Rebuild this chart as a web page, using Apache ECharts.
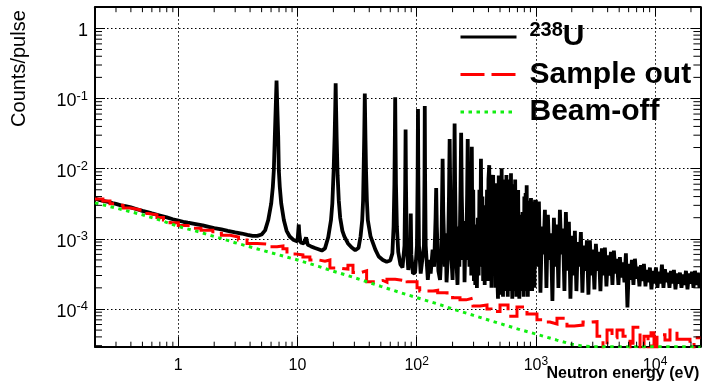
<!DOCTYPE html>
<html>
<head>
<meta charset="utf-8">
<script src="https://cdn.jsdelivr.net/npm/echarts@6/dist/echarts.min.js"></script>
<style>
  html, body { margin: 0; padding: 0; background: #fff; }
  #chart { width: 702px; height: 385px; }
</style>
</head>
<body>
<div id="chart"></div>
<script>
// Axis ranges (eV on x, counts per pulse on y)
const xRange = [0.2, 24000];
const yRange = [2.9e-5, 2];

// Mantissas used for the minor ticks inside each decade
const minorMantissas = [2, 3, 4, 5, 6, 7, 8, 9];

// 238U sample in the beam: [neutron energy (eV), counts/pulse]
const u238 = [
  [0.2,3.75e-3],[0.22,3.55e-3],[0.25,3.4e-3],[0.28,3.22e-3],[0.3,3.14e-3],[0.33,3.0e-3],[0.36,2.92e-3],
  [0.4,2.8e-3],[0.45,2.64e-3],[0.5,2.5e-3],[0.55,2.4e-3],[0.6,2.3e-3],[0.7,2.15e-3],[0.8,2.02e-3],
  [0.9,1.9e-3],[1.0,1.82e-3],[1.1,1.75e-3],[1.2,1.7e-3],[1.4,1.62e-3],[1.6,1.55e-3],[1.8,1.48e-3],
  [2.0,1.42e-3],[2.3,1.36e-3],[2.6,1.3e-3],[3.0,1.24e-3],[3.4,1.19e-3],[3.8,1.14e-3],[4.2,1.1e-3],
  [4.6,1.1e-3],[5.0,1.15e-3],[5.35,1.32e-3],
  // 6.67 eV resonance
  [5.68,1.85e-3],[6.02,3.2e-3],[6.21,5.5e-3],[6.33,9.5e-3],[6.45,0.028],[6.58,0.085],[6.67,0.18],
  [6.76,0.08],[6.89,0.028],[6.97,9.5e-3],[7.1,5.5e-3],[7.3,3.2e-3],[7.68,1.85e-3],[8.1,1.3e-3],
  [8.6,1.08e-3],[9.3,9.6e-4],[10.0,9.2e-4],[10.15,1.3e-3],[10.25,1.6e-3],[10.35,1.2e-3],[10.6,8.9e-4],
  [11.3,8.6e-4],[11.8,1.05e-3],[12.2,8.2e-4],[13.0,7.8e-4],[14.0,7.4e-4],[15.0,7.1e-4],[16.0,6.8e-4],
  [17.0,7.3e-4],[18.1,1.05e-3],
  // 20.9 eV resonance
  [19.1,1.85e-3],[19.6,3.2e-3],[20.1,9.5e-3],[20.5,0.03],[20.75,0.08],[20.9,0.165],[21.05,0.08],
  [21.3,0.028],[21.7,8e-3],[22.2,3.5e-3],[22.8,2e-3],[23.8,1.3e-3],[24.7,1.08e-3],[26.5,8.6e-4],
  [28.5,7.5e-4],[30.5,6.9e-4],[32.5,7.4e-4],[33.8,1.08e-3],
  // 36.7 eV resonance
  [34.9,1.85e-3],[35.5,3.5e-3],[35.9,0.01],[36.3,0.03],[36.55,0.07],[36.7,0.118],[36.9,0.06],
  [37.2,0.025],[37.6,9e-3],[38.2,3.5e-3],[38.9,1.85e-3],[41.0,1.08e-3],[45.0,7.0e-4],[48.0,5.6e-4],
  [52.0,5.0e-4],[56.0,4.7e-4],[60.0,4.9e-4],[62.5,6.2e-4],
  // 66 eV and up
  [64.0,1.5e-3],[65.0,6e-3],[65.6,0.03],[66.0,0.104],[66.4,0.03],[67.0,6e-3],[68.2,1.5e-3],
  [70.0,6.5e-4],[73.0,4.3e-4],[76.0,3.9e-4],[79.0,8e-4],[80.1,6e-3],[80.7,0.036],[81.3,6e-3],
  [82.5,8e-4],[85.0,3.6e-4],[88.3,6e-4],[89.2,2.3e-3],[90.1,6e-4],[93.0,3.2e-4],[97.0,3.3e-4],
  [100.5,8e-4],[101.8,8e-3],[102.5,0.071],[103.2,8e-3],[104.5,8e-4],[108,3.2e-4],[112,3.3e-4],
  [115,8e-4],[116.3,8e-3],[116.9,0.078],[117.6,8e-3],[119,8e-4],[124,2.6e-4],[128,5e-4],[131,3.2e-4],
  [136,7e-4],[140,4e-4],[144,2e-3],[145.7,5.3e-3],[147.5,1.5e-3],[152,3.5e-4],[157,2.6e-4],[161,6e-4],
  [163,3e-3],[165,0.0138],[167,2.5e-3],[172,4e-4],[175,1.2e-3],[178,2.4e-4],[183,6e-4],[186.5,4e-3],
  [189,0.0265],[191.5,4e-3],[196,5e-4],[200,2.6e-4],[204,9e-4],[206,6e-3],[208,0.044],[210,6e-3],
  [214,6e-4],[220,2.2e-4],[225,1.5e-3],[228,4e-4],[233,5e-3],[236,0.0325],[239,4e-3],[245,5e-4],
  [249,1.8e-3],[252,2.4e-4],[257,1.2e-3],[260,5e-4],[265,4.5e-3],[268,0.0265],[271,3e-3],[277,4e-4],
  // 280 eV - 1 keV: dense resonances
  [283,4e-3],[287,3e-4],[290,0.0205],[294,4e-4],[298,5e-3],[302,2.5e-4],[306,1.6e-3],[310,2.2e-4],
  [315,1.4e-3],[320,2e-4],[326,2e-3],[331,3e-4],[336,5e-3],[341,4e-4],[346,0.0138],[351,4e-4],
  [356,4e-3],[361,2.5e-4],[366,1.66e-3],[372,2.2e-4],[377,3e-3],[383,3e-4],[389,5e-3],[395,2.5e-4],
  [400,7e-3],[406,0.0112],[412,3e-4],[418,6e-3],[424,2e-4],[431,7e-3],[438,8.1e-3],[444,3e-4],
  [451,5e-3],[458,2e-4],[462,4e-3],[467,6.2e-3],[474,3e-4],[481,1.4e-4],[488,8e-3],[494,3e-4],
  [501,7e-3],[508,1.6e-4],[516,0.0101],[523,4e-4],[530,1.5e-4],[538,7e-3],[545,2.5e-4],[552,6e-3],
  [559,1.8e-4],[566,8.1e-3],[574,4e-4],[581,1.5e-4],[589,7e-3],[596,2.5e-4],[604,6e-3],[611,1.8e-4],
  [618,8.6e-3],[626,4e-4],[634,1.4e-4],[642,6e-3],[651,2.5e-4],[660,5e-3],[665,1.8e-4],[670,7.0e-3],
  [678,4e-4],[686,1.5e-4],[693,4e-3],[700,2.5e-4],[710,4.95e-3],[718,3e-4],[726,1.4e-4],[735,2e-3],
  [744,2.5e-4],[752,2.2e-3],[762,1.8e-4],[773,2.4e-3],[782,3e-4],[790,1.5e-4],[800,4e-3],[810,2.5e-4],
  [820,4.5e-3],[828,1.8e-4],[837,5.8e-3],[847,4e-4],[856,1.5e-4],[866,3.5e-3],[876,2.5e-4],
  [886,3.5e-3],[895,1.8e-4],[903,3e-3],[910,3.8e-3],[920,4e-4],[930,1.8e-4],[940,3.2e-3],[950,2.5e-4],
  [962,3.4e-3],[972,2e-4],[985,3.6e-3],[995,4e-4],
  // unresolved region
  [1000,3.6e-3],[1030,4e-4],[1060,3.4e-3],[1092,1.7e-4],[1123,1.5e-3],[1157,6e-4],[1190,2.6e-3],
  [1226,2e-4],[1261,2.2e-3],[1299,5e-4],[1336,1.2e-3],[1376,1.3e-4],[1416,2.0e-3],[1458,4e-4],
  [1500,1.6e-3],[1545,2e-4],[1590,2.6e-3],[1638,6e-4],[1685,1.4e-3],[1736,1.8e-4],[1785,2.4e-3],
  [1839,3.5e-4],[1892,1.75e-3],[1949,1.4e-4],[2005,1.1e-3],[2065,3e-4],[2124,1.3e-3],[2188,1.8e-4],
  [2251,9e-4],[2319,4e-4],[2385,1.25e-3],[2457,1.7e-4],[2528,8e-4],[2604,3.5e-4],[2679,9.5e-4],
  [2759,1.6e-4],[2838,9.5e-4],[2923,3e-4],[3008,7e-4],[3098,1.9e-4],[3187,8.5e-4],[3283,3.5e-4],
  [3378,6.5e-4],[3479,1.8e-4],[3579,7.3e-4],[3686,3e-4],[3793,7.5e-4],[3907,2.1e-4],[4020,5.8e-4],
  [4141,3e-4],[4260,6.5e-4],[4388,2.2e-4],[4514,6.8e-4],[4649,3.2e-4],[4783,5.2e-4],[4926,2.2e-4],
  [5069,5.5e-4],[5221,2.8e-4],[5372,4.6e-4],[5533,2.4e-4],[5692,6.2e-4],[5863,1.05e-4],[6032,4.4e-4],
  [6213,2.6e-4],[6392,5.0e-4],[6584,2.2e-4],[6774,5.2e-4],[6977,2.7e-4],[7178,4.0e-4],[7393,2.1e-4],
  [7607,4.2e-4],[7835,2.5e-4],[8061,4.4e-4],[8303,2.1e-4],[8542,3.6e-4],[8798,2.4e-4],[9052,3.9e-4],
  [9324,1.9e-4],[9593,3.5e-4],[9881,2.3e-4],[10165,3.9e-4],[10470,2.0e-4],[10772,3.4e-4],[11095,2.3e-4],
  [11415,4.3e-4],[11757,2.0e-4],[12097,3.7e-4],[12460,2.4e-4],[12819,3.3e-4],[13204,2.0e-4],
  [13584,3.5e-4],[13992,2.3e-4],[14395,3.6e-4],[14827,1.9e-4],[15255,3.2e-4],[15713,2.3e-4],
  [16166,3.3e-4],[16651,2.0e-4],[17131,3.1e-4],[17645,2.2e-4],[18154,3.5e-4],[18699,1.9e-4],
  [19238,3.2e-4],[19815,2.3e-4],[20386,3.4e-4],[20998,2.0e-4],[21604,3.5e-4],[22252,2.2e-4],
  [22894,3.3e-4],[23581,2.0e-4],[24000,2.6e-4]
];

// Sample-out run, histogram bins: [lower bin edge (eV), counts/pulse]; 1e-6 marks empty bins
const sampleOut = [
  [0.2,3.7e-3],[0.233,3.45e-3],[0.267,3.15e-3],[0.3,3.0e-3],[0.344,2.75e-3],[0.4,2.6e-3],
  [0.477,2.3e-3],[0.56,2.2e-3],[0.662,2.02e-3],[0.75,1.85e-3],[0.852,1.7e-3],[1.0,1.55e-3],
  [1.25,1.42e-3],[1.55,1.32e-3],[1.95,1.2e-3],[2.3,1.12e-3],[2.72,1.06e-3],[3.2,9.6e-4],
  [3.77,8.6e-4],[4.6,8.4e-4],[5.54,7.7e-4],[6.73,7.9e-4],[7.55,7.2e-4],[8.16,6.1e-4],[9.53,5.9e-4],
  [11.1,5.5e-4],[12.7,5.0e-4],[15.0,4.8e-4],[17.0,5.0e-4],[18.7,3.85e-4],[22,3.7e-4],[26.5,4.2e-4],
  [29.2,3.3e-4],[34,3.5e-4],[38,2.45e-4],[45,2.55e-4],[52,2.4e-4],[56.3,2.65e-4],[66,2.55e-4],
  [77,2.7e-4],[83.1,2.45e-4],[100.7,2.0e-4],[106,1.8e-4],[137.3,1.85e-4],[150,1.7e-4],
  [179.7,1.55e-4],[200,1.45e-4],[230.8,1.35e-4],[260,1.43e-4],[296.6,1.1e-4],[340,1.14e-4],
  [388.8,1.0e-4],[420,9.2e-5],[500,1.14e-4],[584,7.9e-5],[694,1.07e-4],[842,8.5e-5],[1021,7.0e-5],
  [1150,6.5e-5],[1313,6.1e-5],[1503,7.4e-5],[1823,5.7e-5],[2100,5.9e-5],[2485,6.5e-5],[2844,6.6e-5],
  [3258,4.1e-5],[3657,1e-6],[3953,5e-5],[4353,3.9e-5],[4795,5e-5],[5383,4.1e-5],[6163,1e-6],
  [6530,5.5e-5],[7478,1e-6],[8079,4.1e-5],[8732,1e-6],[9249,4.6e-5],[9797,1e-6],[10377,4.3e-5],
  [12106,3.6e-5],[13335,5e-5],[15270,3.7e-5],[19630,1e-6],[21220,3.9e-5],[24000,3.9e-5]
];

// Beam-off background: [neutron energy (eV), counts/pulse]
const beamOff = [
  [0.2,3.25e-3],[0.3,2.75e-3],[0.5,2.2e-3],[0.7,1.85e-3],[1,1.5e-3],[1.5,1.25e-3],[2,1.08e-3],
  [3,8.8e-4],[5,6.9e-4],[7,5.9e-4],[10,5.0e-4],[15,4.05e-4],[20,3.45e-4],[30,2.8e-4],[50,2.1e-4],
  [70,1.75e-4],[100,1.45e-4],[150,1.18e-4],[200,1.0e-4],[300,8.1e-5],[500,6.2e-5],[700,5.2e-5],
  [1000,4.4e-5],[1500,3.6e-5],[2000,3.15e-5],[2500,2.95e-5],[3000,2.9e-5],[24000,2.9e-5]
];

const FONT = '"Liberation Sans", Arial, Helvetica, sans-serif';

function minorTicks(range) {
  const out = [];
  const e0 = Math.floor(Math.log10(range[0]));
  const e1 = Math.ceil(Math.log10(range[1]));
  for (let e = e0; e <= e1; e++) {
    for (const m of minorMantissas) {
      const v = m * Math.pow(10, e);
      if (v > range[0] * 1.0001 && v < range[1] * 0.9999) out.push(v);
    }
  }
  return out;
}

function powerLabel(v) {
  const lg = Math.log10(v);
  const e = Math.round(lg);
  if (Math.abs(lg - e) > 1e-6) return '';
  if (e === 0) return '{b|1}';
  if (e === 1) return '{b|10}';
  return '{b|10}{s|' + e + '}';
}

function xMinorItem(params, api) {
  const v = api.value(0);
  const b = api.coord([v, yRange[0]]);
  const t = api.coord([v, yRange[1]]);
  return { type: 'group', children: [
    { type: 'line', shape: { x1: b[0], y1: b[1], x2: b[0], y2: b[1] - 5 }, style: { stroke: '#000', lineWidth: 1 } },
    { type: 'line', shape: { x1: t[0], y1: t[1], x2: t[0], y2: t[1] + 5 }, style: { stroke: '#000', lineWidth: 1 } }
  ] };
}

function yMinorItem(params, api) {
  const v = api.value(1);
  const l = api.coord([xRange[0], v]);
  const r = api.coord([xRange[1], v]);
  return { type: 'group', children: [
    { type: 'line', shape: { x1: l[0], y1: l[1], x2: l[0] + 7, y2: l[1] }, style: { stroke: '#000', lineWidth: 1 } },
    { type: 'line', shape: { x1: r[0], y1: r[1], x2: r[0] - 7, y2: r[1] }, style: { stroke: '#000', lineWidth: 1 } }
  ] };
}

const chart = echarts.init(document.getElementById('chart'), null, { renderer: 'canvas' });

chart.setOption({
  animation: false,
  backgroundColor: '#fff',
  textStyle: { fontFamily: FONT },
  grid: { left: 95, right: 1.6, top: 7.2, bottom: 38.3, containLabel: false, outerBoundsMode: 'none' },
  legend: {
    orient: 'vertical',
    left: 459,
    top: 20,
    padding: 0,
    itemGap: 7.5,
    itemWidth: 56,
    itemHeight: 14,
    selectedMode: false,
    itemStyle: { opacity: 0 },
    lineStyle: { width: 3 },
    data: ['238U', 'Sample out', 'Beam-off'],
    formatter: function (name) {
      if (name === '238U') return '{s|238}{b|U}';
      return '{b|' + name + '}';
    },
    textStyle: {
      color: '#000',
      padding: [0, 0, 0, 8],
      rich: {
        b: { fontFamily: FONT, fontSize: 30, fontWeight: 'bold', lineHeight: 34, color: '#000' },
        s: { fontFamily: FONT, fontSize: 20, fontWeight: 'bold', lineHeight: 14, verticalAlign: 'top', color: '#000' }
      }
    }
  },
  xAxis: [
    {
      type: 'log', logBase: 10, min: xRange[0], max: xRange[1], position: 'bottom',
      name: 'Neutron energy (eV)', nameLocation: 'end', nameGap: -1, nameMoveOverlap: false,
      nameTextStyle: { fontFamily: FONT, fontSize: 16, fontWeight: 'bold', color: '#000', align: 'right', verticalAlign: 'top', padding: [19, 0, 0, 0] },
      axisLine: { show: true, lineStyle: { color: '#000', width: 2 } },
      axisTick: { show: true, inside: true, length: 10, lineStyle: { color: '#000', width: 1 } },
      axisLabel: {
        show: true, margin: 9, color: '#000', formatter: powerLabel,
        rich: {
          b: { fontFamily: FONT, fontSize: 16, lineHeight: 20, color: '#000' },
          s: { fontFamily: FONT, fontSize: 12, lineHeight: 12, verticalAlign: 'top', color: '#000' }
        }
      },
      splitLine: { show: true, lineStyle: { color: '#000', width: 1, type: [1.5, 2.5] } },
      minorTick: { show: false }
    },
    {
      type: 'log', logBase: 10, min: xRange[0], max: xRange[1], position: 'top',
      axisLine: { show: true, lineStyle: { color: '#000', width: 2 } },
      axisTick: { show: true, inside: true, length: 9, lineStyle: { color: '#000', width: 1 } },
      axisLabel: { show: false },
      splitLine: { show: false }
    }
  ],
  yAxis: [
    {
      type: 'log', logBase: 10, min: yRange[0], max: yRange[1], position: 'left',
      name: 'Counts/pulse', nameLocation: 'end', nameRotate: 90, nameGap: -3, nameMoveOverlap: false,
      nameTextStyle: { fontFamily: FONT, fontSize: 20, color: '#000', align: 'right', verticalAlign: 'bottom', padding: [0, 0, 66, 0] },
      axisLine: { show: true, lineStyle: { color: '#000', width: 2 } },
      axisTick: { show: true, inside: true, length: 10, lineStyle: { color: '#000', width: 1 } },
      axisLabel: {
        show: true, margin: 7, color: '#000', formatter: powerLabel, padding: [6, 0, 0, 0],
        rich: {
          b: { fontFamily: FONT, fontSize: 18, lineHeight: 24, color: '#000' },
          s: { fontFamily: FONT, fontSize: 13, lineHeight: 13, verticalAlign: 'top', color: '#000' }
        }
      },
      splitLine: { show: true, lineStyle: { color: '#000', width: 1, type: [1.5, 2.5] } }
    },
    {
      type: 'log', logBase: 10, min: yRange[0], max: yRange[1], position: 'right',
      axisLine: { show: true, lineStyle: { color: '#000', width: 2 } },
      axisTick: { show: true, inside: true, length: 10, lineStyle: { color: '#000', width: 1 } },
      axisLabel: { show: false },
      splitLine: { show: false }
    }
  ],
  series: [
    {
      name: '238U', type: 'line', xAxisIndex: 0, yAxisIndex: 0, data: u238,
      symbol: 'none', showSymbol: false, z: 2, silent: true,
      lineStyle: { color: '#000', width: 3.8, join: 'bevel' },
      itemStyle: { color: '#000' },
      emphasis: { disabled: true }
    },
    {
      name: 'Sample out', type: 'line', step: 'end', xAxisIndex: 0, yAxisIndex: 0, data: sampleOut,
      symbol: 'none', showSymbol: false, z: 3, silent: true,
      lineStyle: { color: '#ff0000', width: 3, type: [24, 7], join: 'miter' },
      itemStyle: { color: '#ff0000' },
      emphasis: { disabled: true }
    },
    {
      name: 'Beam-off', type: 'line', xAxisIndex: 0, yAxisIndex: 0, data: beamOff,
      symbol: 'none', showSymbol: false, z: 4, silent: true,
      lineStyle: { color: '#11ee11', width: 3, type: [3.5, 4.5] },
      itemStyle: { color: '#11ee11' },
      emphasis: { disabled: true }
    },
    {
      type: 'custom', name: 'xMinor', xAxisIndex: 0, yAxisIndex: 0, silent: true, clip: false, z: 10,
      data: minorTicks(xRange).map(v => [v, yRange[0]]),
      encode: { x: 0, y: 1 }, renderItem: xMinorItem
    },
    {
      type: 'custom', name: 'yMinor', xAxisIndex: 0, yAxisIndex: 0, silent: true, clip: false, z: 10,
      data: minorTicks(yRange).map(v => [xRange[0], v]),
      encode: { x: 0, y: 1 }, renderItem: yMinorItem
    }
  ]
});
</script>
</body>
</html>
